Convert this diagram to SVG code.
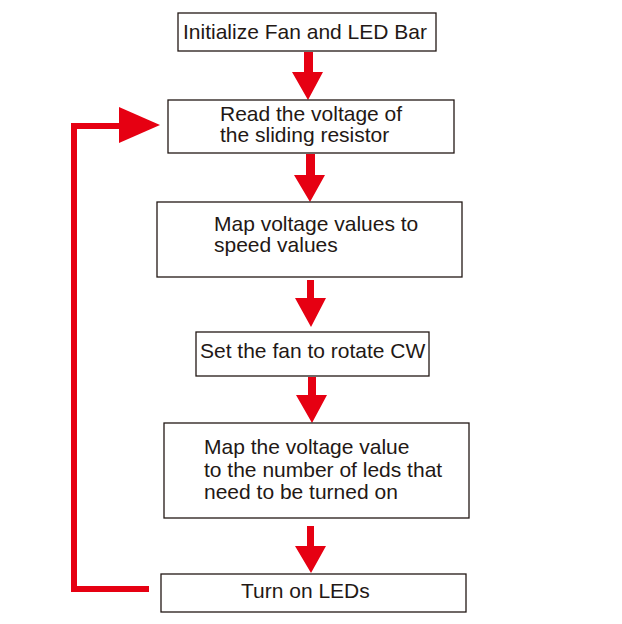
<svg xmlns="http://www.w3.org/2000/svg" width="622" height="624" viewBox="0 0 622 624">
<style>
.box{fill:#fff;stroke:#231815;stroke-width:1.3}
.t{font-family:"Liberation Sans",Arial,sans-serif;font-size:21px;fill:#231815}
.ar{fill:#e60012}
.loop{fill:none;stroke:#e60012;stroke-width:6}
</style>
<rect width="622" height="624" fill="#fff"/>
<g id="connectors">
<path class="ar" d="M304,52H313V72H323L308,100L292,72H304Z"/>
<path class="ar" d="M306,154H315V175H325L310,202L294,175H306Z"/>
<path class="ar" d="M307,280H314V298H326L311,327L295,298H307Z"/>
<path class="ar" d="M308,377H316V395H327L312,423L296,395H308Z"/>
<path class="ar" d="M307,526H314V546H326L311,573L295,546H307Z"/>
<polyline class="loop" points="149,589 74,589 74,126 122,126"/>
<path class="ar" d="M119,107L160,125L119,143Z"/>
</g>
<g id="n1"><rect class="box" x="178" y="13" width="258" height="38"/><text class="t" x="183" y="39">Initialize Fan and LED Bar</text></g>
<g id="n2"><rect class="box" x="168" y="100" width="286" height="53"/><text class="t" x="220" y="121">Read the voltage of</text><text class="t" x="220" y="142">the sliding resistor</text></g>
<g id="n3"><rect class="box" x="157" y="202" width="305" height="75"/><text class="t" x="214" y="231">Map voltage values to</text><text class="t" x="214" y="252">speed values</text></g>
<g id="n4"><rect class="box" x="196" y="332" width="233" height="44"/><text class="t" x="200" y="358">Set the fan to rotate CW</text></g>
<g id="n5"><rect class="box" x="164" y="423" width="305" height="95"/><text class="t" x="204" y="454">Map the voltage value</text><text class="t" x="204" y="477">to the number of leds that</text><text class="t" x="204" y="499">need to be turned on</text></g>
<g id="n6"><rect class="box" x="161" y="574" width="305" height="38"/><text class="t" x="241" y="598">Turn on LEDs</text></g>
</svg>
